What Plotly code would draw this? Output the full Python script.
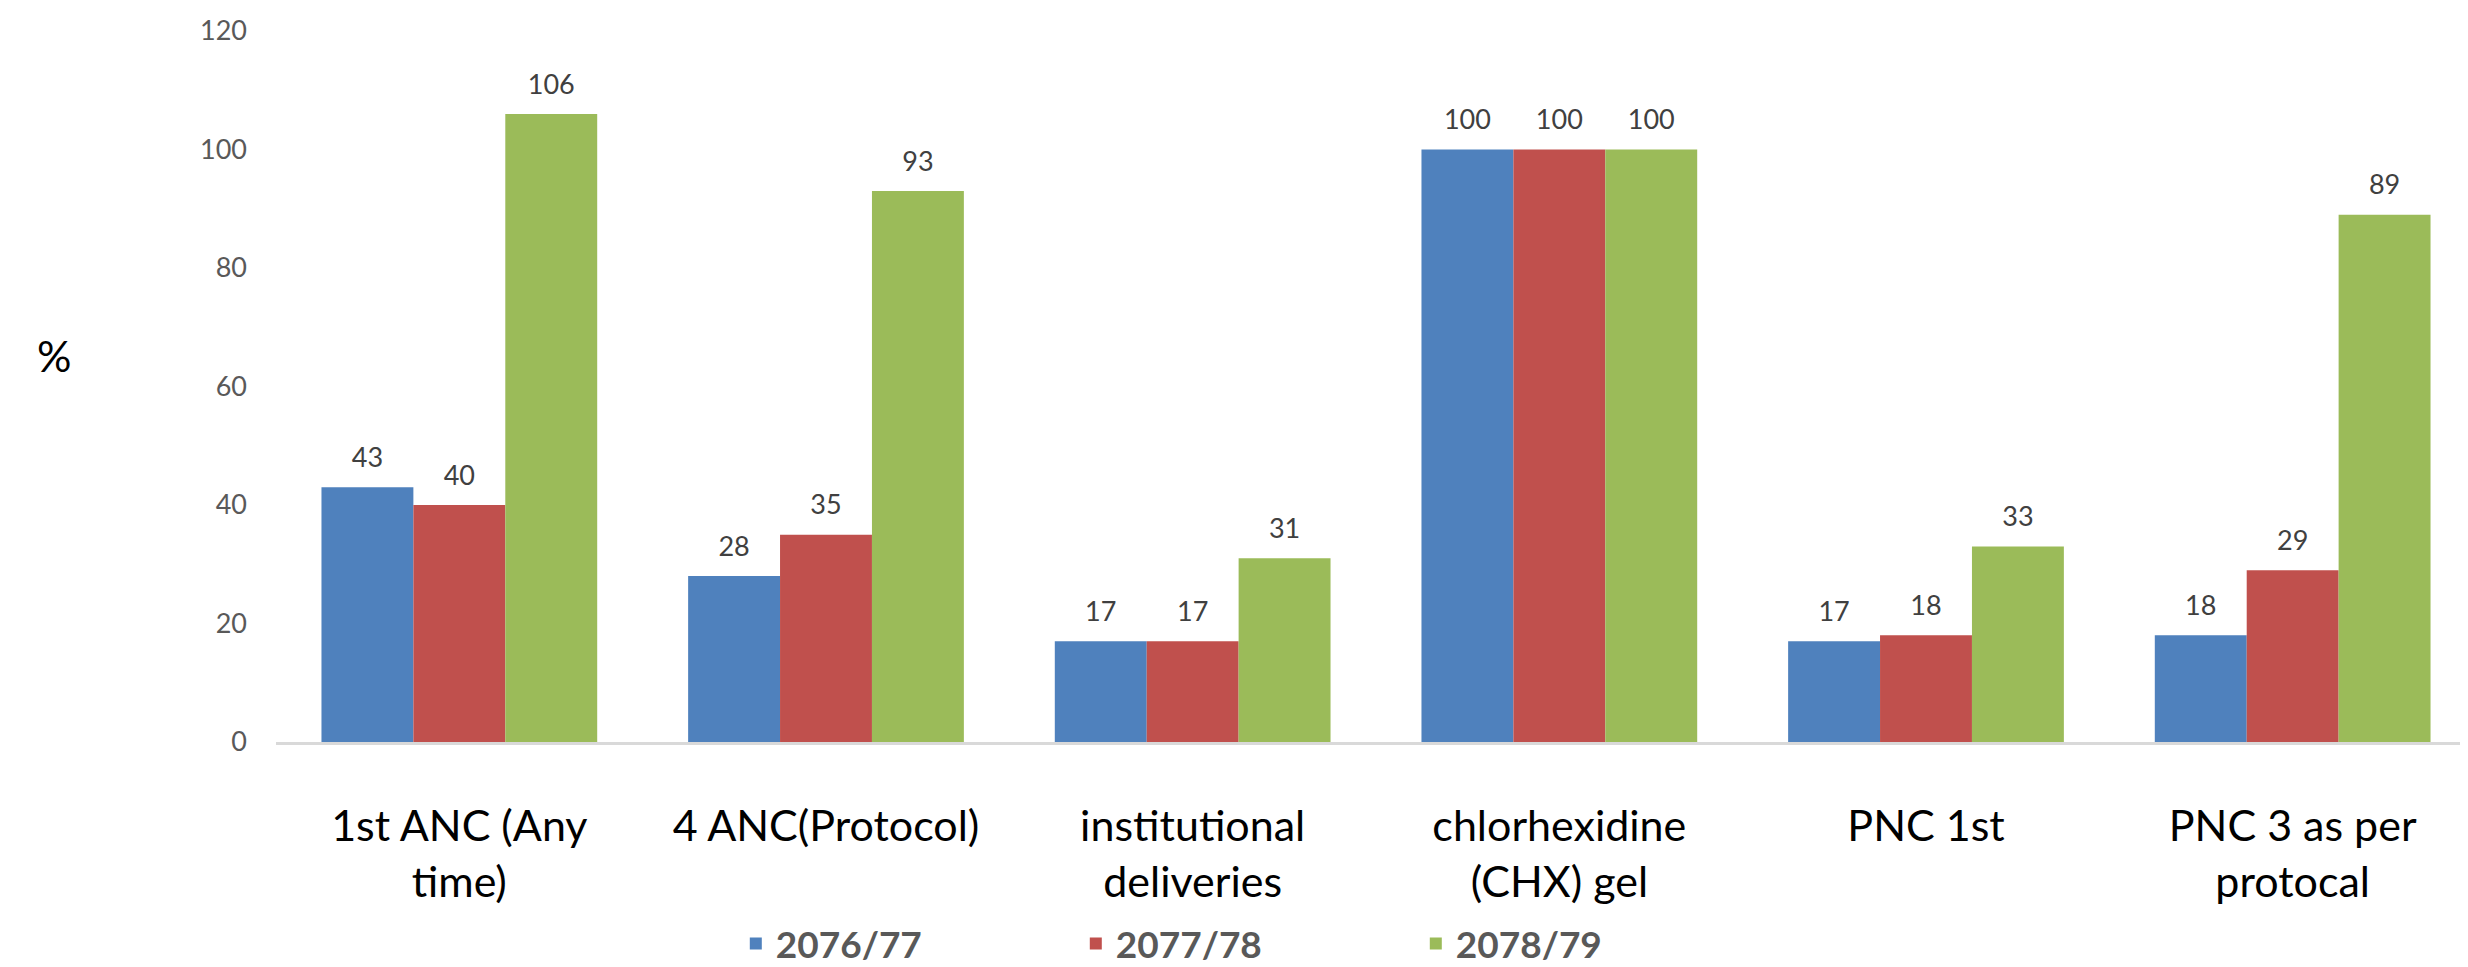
import plotly.graph_objects as go

# categories and values
categories = ["1st ANC (Any time)", "4 ANC(Protocol)", "institutional deliveries",
              "chlorhexidine (CHX) gel", "PNC 1st", "PNC 3 as per protocal"]
tick_labels = ["1st ANC (Any<br>time)", "4 ANC(Protocol)", "institutional<br>deliveries",
               "chlorhexidine<br>(CHX) gel", "PNC 1st", "PNC 3 as per<br>protocal"]
years = ["2076/77", "2077/78", "2078/79"]
v_2076 = [43, 28, 17, 100, 17, 18]
v_2077 = [40, 35, 17, 100, 18, 29]
v_2078 = [106, 93, 31, 100, 33, 89]
colors = ["#4F81BD", "#C0504D", "#9BBB59"]

FONT = "Lato, 'Open Sans', sans-serif"

fig = go.Figure()

# bars
for name, vals, c in zip(years, [v_2076, v_2077, v_2078], colors):
    fig.add_trace(go.Bar(x=categories, y=vals, name=name, marker_color=c,
                         marker_line_width=0))

# data labels (invisible markers so the text sits a bit above the bars)
for name, vals in zip(years, [v_2076, v_2077, v_2078]):
    fig.add_trace(go.Scatter(x=categories, y=vals, mode="markers+text",
                             text=[str(v) for v in vals], textposition="top center",
                             marker=dict(size=20, opacity=0),
                             textfont=dict(family=FONT, size=27, color="#404040"),
                             showlegend=False, cliponaxis=False, hoverinfo="skip"))

fig.update_layout(
    width=2468, height=967,
    margin=dict(l=268, r=0, t=23, b=224),
    paper_bgcolor="white", plot_bgcolor="white",
    barmode="group", bargap=0.248, bargroupgap=0,
    scattermode="group", scattergap=0.248,
    font=dict(family=FONT),
    legend=dict(orientation="h", x=0.209, xanchor="left", y=-0.2847, yanchor="middle",
                entrywidth=295, font=dict(family=FONT, size=37, color="#595959", weight="bold"),
                bgcolor="rgba(0,0,0,0)"),
    annotations=[dict(text="%", xref="paper", yref="paper", x=-0.1096, y=0.544,
                      showarrow=False, font=dict(family=FONT, size=43, color="black"))],
)

fig.update_xaxes(tickvals=categories, ticktext=tick_labels, showline=True,
                 linecolor="#D9D9D9", linewidth=3, showgrid=False, ticks="",
                 ticklabelstandoff=44, tickfont=dict(family=FONT, size=43, color="black"))
fig.update_yaxes(range=[0, 120], dtick=20, showgrid=False, zeroline=False, showline=False,
                 ticks="", ticklabelstandoff=28,
                 tickfont=dict(family=FONT, size=27, color="#595959"))

fig.write_html("out.html")
